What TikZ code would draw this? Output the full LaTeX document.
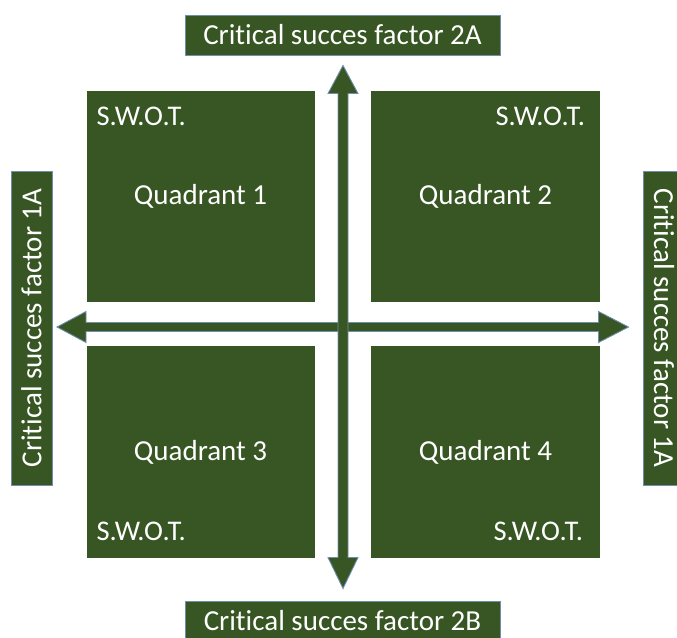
\documentclass[tikz,border=0pt]{standalone}
\usepackage{fontspec}
\setmainfont[Ligatures=NoCommon]{Carlito}
\usetikzlibrary{calc}
\definecolor{dkgreen}{HTML}{375623}
\definecolor{edgeblue}{HTML}{6F8FAF}
\tikzset{
  quad/.style={fill=dkgreen, draw=none, inner sep=0pt, text=white,
    font=\fontsize{29}{31}\selectfont},
  lab/.style={fill=dkgreen, draw=edgeblue, line width=1pt, inner sep=0pt,
    text=white, font=\fontsize{29}{31}\selectfont},
  swot/.style={text=white, inner sep=0pt, font=\fontsize{28.5}{30}\selectfont},
  arrowshape/.style={fill=dkgreen, draw=edgeblue, line width=0.9pt, line join=miter}
}
\begin{document}
\begin{tikzpicture}[x=1pt,y=-1pt]
\useasboundingbox (0,0) rectangle (677,637);
\clip (0,0) rectangle (677,637);
% quadrants
\node[quad, minimum width=228pt, minimum height=211pt] (q1) at (200.5,196.5) {Quadrant 1};
\node[quad, minimum width=229pt, minimum height=211pt] (q2) at (485.5,196.5) {Quadrant 2};
\node[quad, minimum width=228pt, minimum height=212pt] (q3) at (200.5,452) {Quadrant 3};
\node[quad, minimum width=229pt, minimum height=212pt] (q4) at (485.5,452) {Quadrant 4};
% SWOT labels
\node[swot, anchor=base west] (s1) at ($(q1.north west)+(10,35)$) {S.W.O.T.};
\node[swot, anchor=base east] (s2) at ($(q2.north east)+(-15,35)$) {S.W.O.T.};
\node[swot, anchor=base west] (s3) at ($(q3.south west)+(10,-18)$) {S.W.O.T.};
\node[swot, anchor=base east] (s4) at ($(q4.south east)+(-17,-18)$) {S.W.O.T.};
% side labels
\node[lab, minimum width=315pt, minimum height=40pt] (top) at (342.5,35) {Critical succes factor 2A};
\node[lab, minimum width=315pt, minimum height=40pt] (bot) at (342.5,621) {Critical succes factor 2B};
\node[lab, minimum width=314pt, minimum height=41pt, rotate=90] (left) at (31.5,328) {Critical succes factor 1A};
\node[lab, minimum width=314pt, minimum height=42pt, rotate=-90] (right) at (664,328) {Critical succes factor 1A};
% arrow tips
\coordinate (tL) at ($(left.south)+(4.5,-1)$);
\coordinate (tR) at ($(right.south)+(-14,-1)$);
\coordinate (tT) at ($(top.south)+(0.5,10)$);
\coordinate (tB) at ($(bot.north)+(0.5,-12)$);
% horizontal double arrow
\filldraw[arrowshape] (tL) -- ++(29,-15.5) -- ++(0,11) -- ($(tR)+(-30,-4.5)$) -- ++(0,-11)
  -- (tR) -- ++(-30,15.5) -- ++(0,-11) -- ($(tL)+(29,4.5)$) -- ++(0,11) -- cycle;
% vertical double arrow
\filldraw[arrowshape] (tT) -- ++(15,28) -- ++(-10,0) -- ($(tB)+(5,-31)$) -- ++(10,0)
  -- (tB) -- ++(-15,-31) -- ++(10,0) -- ($(tT)+(-5,28)$) -- ++(-10,0) -- cycle;
\end{tikzpicture}
\end{document}
